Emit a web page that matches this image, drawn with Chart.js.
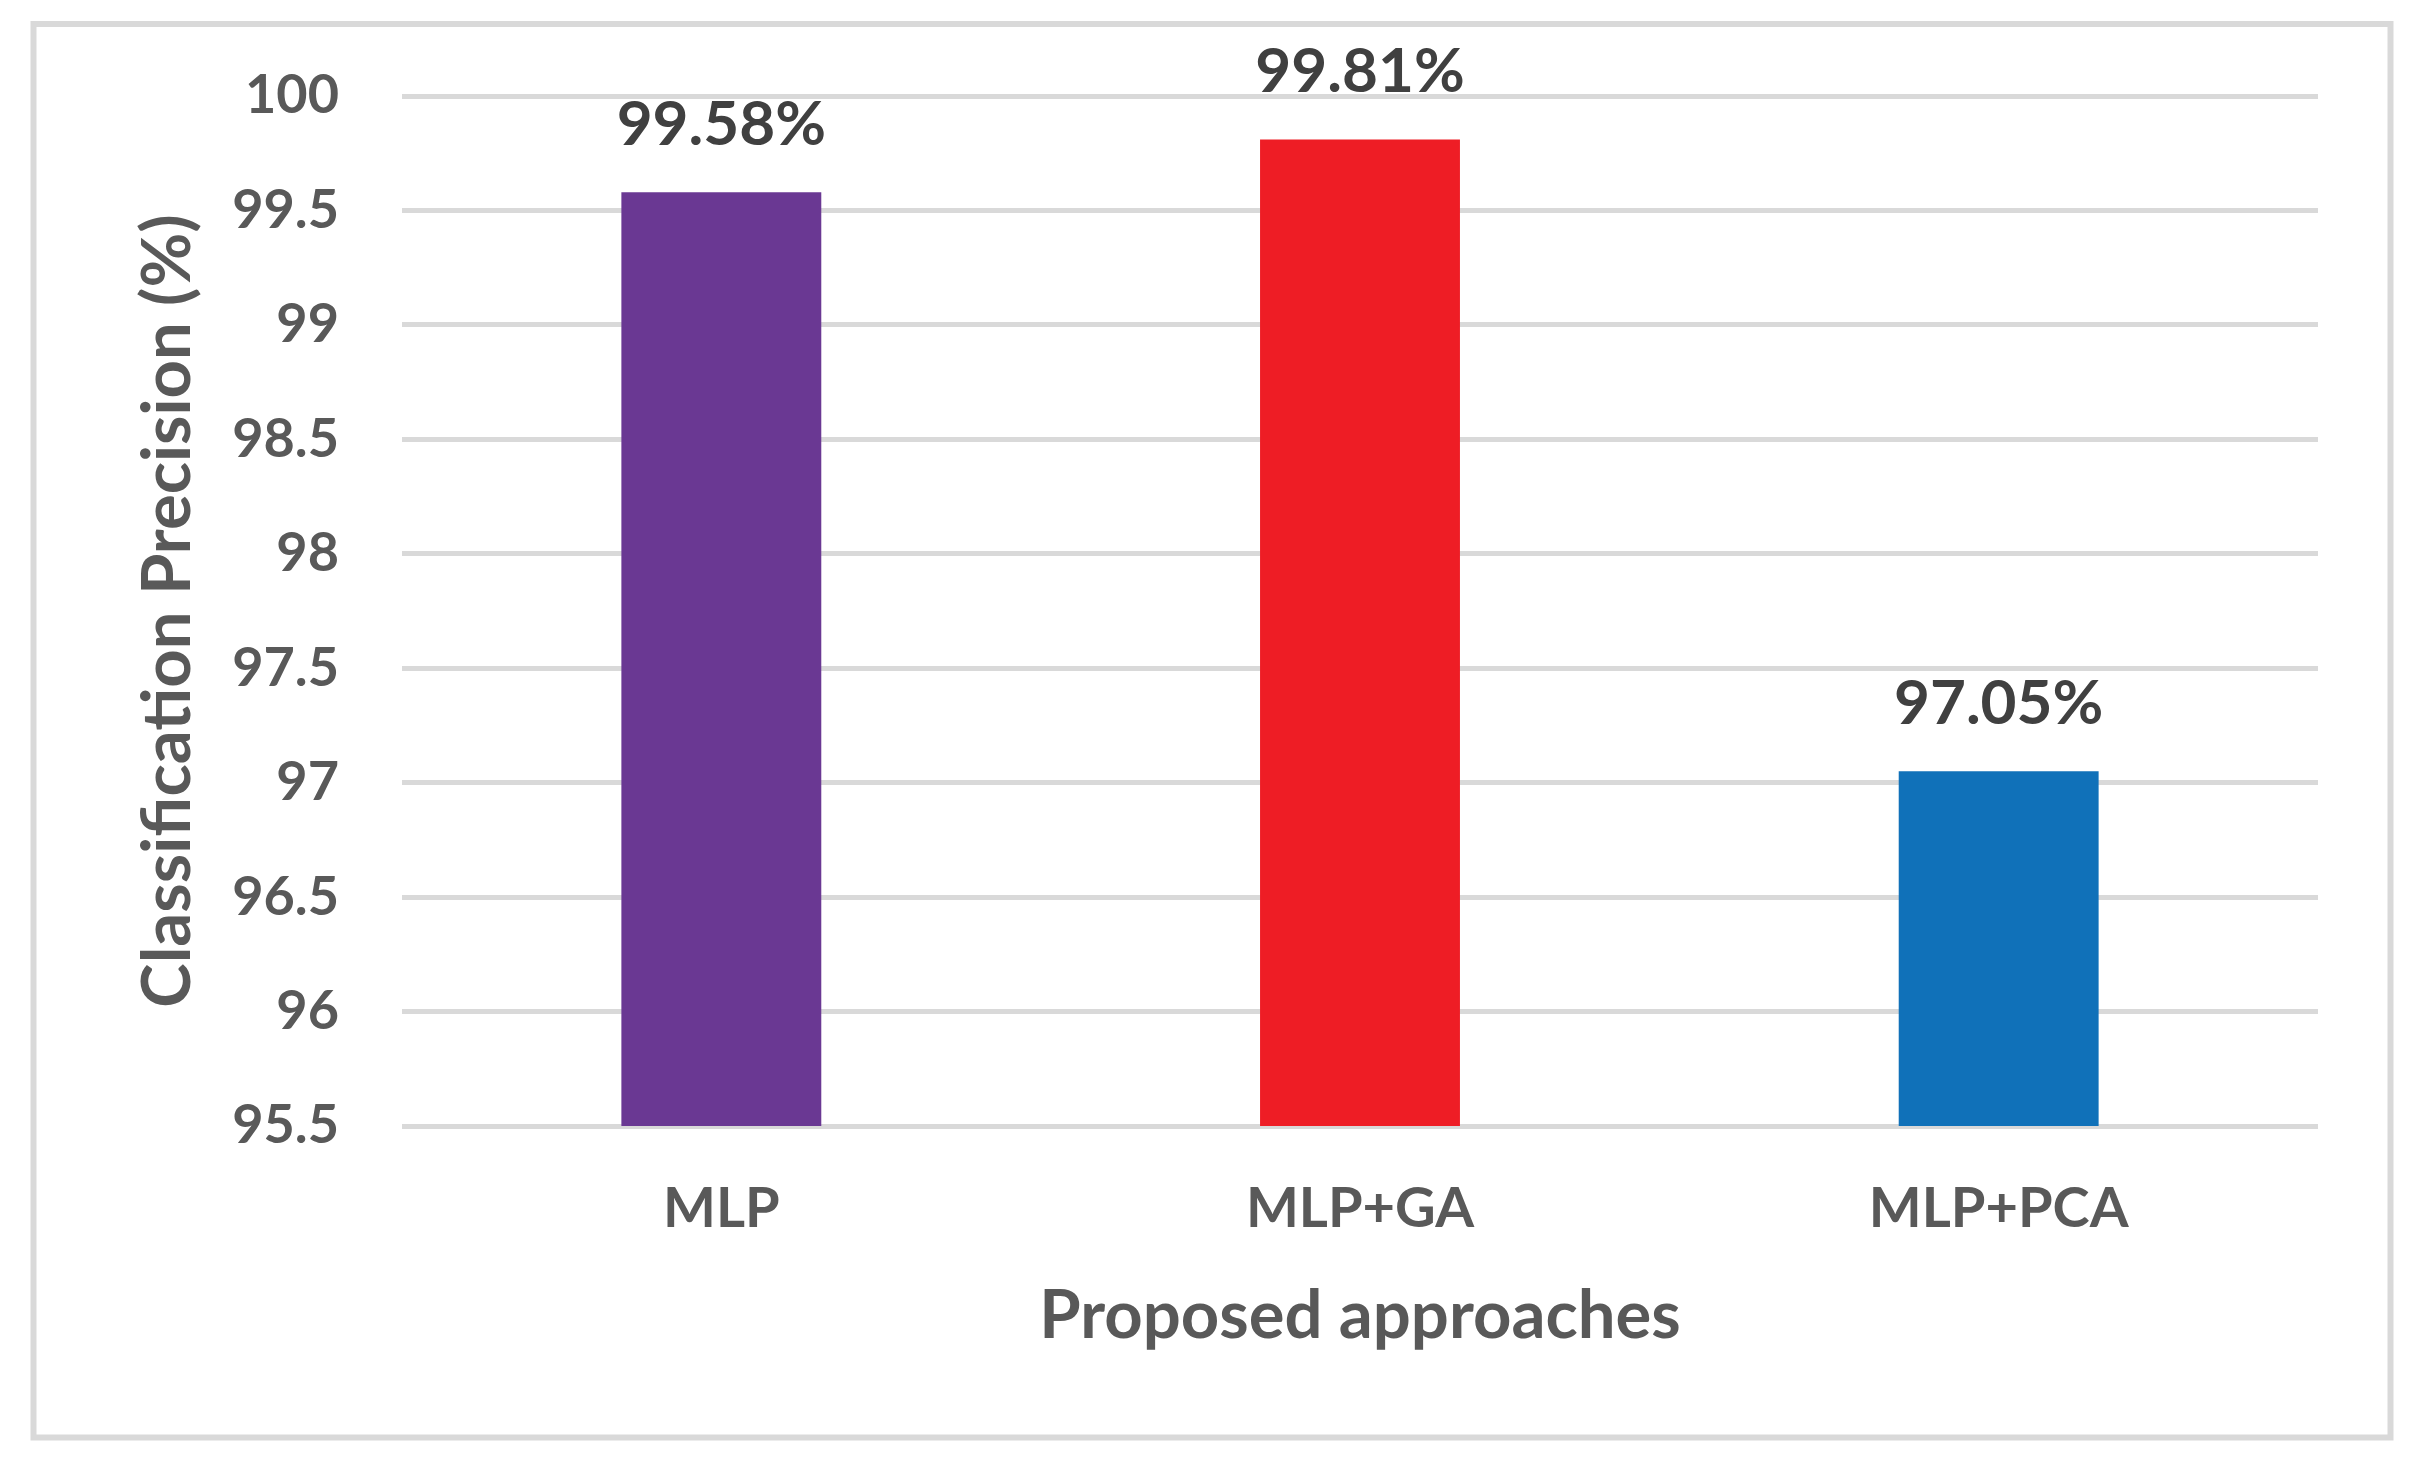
<!DOCTYPE html>
<html>
<head>
<meta charset="utf-8">
<script src="https://cdn.jsdelivr.net/npm/chart.js@4.4.1/dist/chart.umd.min.js"></script>
<style>
  html, body { margin: 0; padding: 0; background: #ffffff; }
  #c { display: block; }
</style>
</head>
<body>
<canvas id="c" width="2418" height="1465"></canvas>
<script>
// ---- data ----
const categories = ['MLP', 'MLP+GA', 'MLP+PCA'];
const precision = [99.58, 99.81, 97.05];
const valueLabels = ['99.58%', '99.81%', '97.05%'];
const yMin = 95.5;
const yMax = 100;
const yStep = 0.5;
const xTitle = 'Proposed approaches';
const yTitle = 'Classification Precision (%)';

const barColors = ['#6A3893', '#EE1D25', '#1071B9'];
const FONT = 'Lato';

const framePlugin = {
  id: 'frame',
  beforeDraw(chart) {
    const ctx = chart.ctx;
    ctx.save();
    ctx.fillStyle = '#ffffff';
    ctx.fillRect(0, 0, chart.width, chart.height);
    ctx.strokeStyle = '#d9d9d9';
    ctx.lineWidth = 6;
    ctx.strokeRect(33.5, 24, 2357, 1413.5);
    ctx.restore();
  }
};

const valueLabelPlugin = {
  id: 'valueLabels',
  afterDatasetsDraw(chart) {
    const ctx = chart.ctx;
    const meta = chart.getDatasetMeta(0);
    ctx.save();
    ctx.font = 'bold 62px ' + FONT;
    ctx.fillStyle = '#404040';
    ctx.textAlign = 'center';
    ctx.textBaseline = 'alphabetic';
    meta.data.forEach((bar, i) => {
      ctx.fillText(valueLabels[i], bar.x, bar.y - 47);
    });
    ctx.restore();
  }
};

new Chart(document.getElementById('c'), {
  type: 'bar',
  data: {
    labels: categories,
    datasets: [{
      data: precision,
      backgroundColor: barColors,
      borderWidth: 0,
      categoryPercentage: 1.0,
      barPercentage: 0.313
    }]
  },
  options: {
    responsive: false,
    animation: false,
    devicePixelRatio: 1,
    layout: { padding: { left: 128, right: 100, top: 96, bottom: 0 } },
    plugins: {
      legend: { display: false },
      tooltip: { enabled: false },
      title: { display: false }
    },
    scales: {
      x: {
        grid: { display: false, drawTicks: false },
        border: { display: false },
        ticks: {
          color: '#595959',
          font: { family: FONT, size: 56, weight: 'bold' },
          padding: 49,
          maxRotation: 0
        },
        title: {
          display: true,
          text: xTitle,
          color: '#595959',
          font: { family: FONT, size: 67, weight: 'bold' },
          padding: { top: 0, bottom: 108 }
        },
        afterFit(scale) { scale.height = 339; }
      },
      y: {
        min: yMin,
        max: yMax,
        grid: { color: '#d9d9d9', lineWidth: 5, drawTicks: false },
        border: { display: false },
        ticks: {
          stepSize: yStep,
          color: '#595959',
          font: { family: FONT, size: 54, weight: 'bold' },
          padding: 63,
          callback: (v) => String(+Number(v).toFixed(1))
        },
        title: {
          display: true,
          text: yTitle,
          color: '#595959',
          font: { family: FONT, size: 67, weight: 'bold' },
          padding: { top: 0, bottom: 0 }
        },
        afterFit(scale) { scale.width = 402 - 128; }
      }
    }
  },
  plugins: [framePlugin, valueLabelPlugin]
});
</script>
</body>
</html>
